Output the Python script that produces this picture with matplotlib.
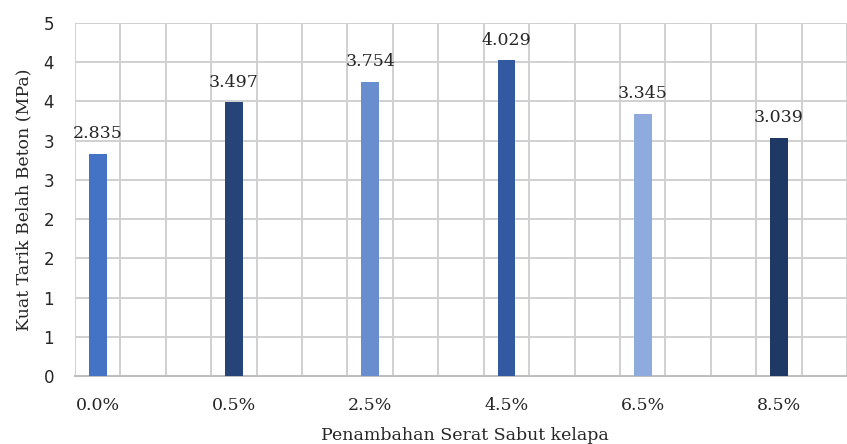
import numpy as np
import matplotlib
matplotlib.use('Agg')
import matplotlib.pyplot as plt

# data
categories = ['0.0%', '0.5%', '2.5%', '4.5%', '6.5%', '8.5%']
values = [2.835, 3.497, 3.754, 4.029, 3.345, 3.039]
colors = ['#4472C4', '#264478', '#698ED0', '#335AA1', '#8FAADC', '#203864']
y_ticks = [0, 0.5, 1.0, 1.5, 2.0, 2.5, 3.0, 3.5, 4.0, 4.5]
y_tick_labels = ['0', '1', '1', '2', '2', '3', '3', '4', '4', '5']

fig = plt.figure(figsize=(8.47, 4.44), dpi=100)
ax = fig.add_axes([75 / 847, 68 / 444, 1 - 75 / 847, (376 - 23) / 444])

# each category takes 3 grid cells, bar sits in the first
x = np.arange(len(categories)) * 3
bars = ax.bar(x, values, width=0.39, color=colors, zorder=3)

for xi, v in zip(x, values):
    ax.annotate(f'{v:.3f}', (xi, v), xytext=(0, 8), textcoords='offset points',
                ha='center', va='bottom', fontsize=12.5, family='DejaVu Serif',
                color='#262626')

ax.set_xlim(-0.5, 16.27)
ax.set_ylim(0, 4.5)
ax.set_yticks(y_ticks)
ax.set_yticklabels(y_tick_labels, fontsize=12, color='#262626')
ax.set_xticks(x)
ax.set_xticklabels(categories, fontsize=12.5, family='DejaVu Serif', color='#262626')
ax.set_xticks(np.arange(-0.5, 17, 1), minor=True)
ax.tick_params(axis='both', which='both', length=0)
ax.tick_params(axis='y', pad=15)
ax.tick_params(axis='x', pad=15)

ax.grid(True, which='major', axis='y', color='#D0D0D0', lw=1.4, zorder=0)
ax.grid(True, which='minor', axis='x', color='#D0D0D0', lw=1.4, zorder=0)

for s in ['top', 'right', 'left']:
    ax.spines[s].set_visible(False)
ax.spines['bottom'].set_color('#BFBFBF')
ax.spines['bottom'].set_linewidth(1.5)

ax.set_ylabel('Kuat Tarik Belah Beton (MPa)', fontsize=12.5, family='DejaVu Serif',
              color='#262626')
ax.yaxis.set_label_coords(-0.055, 0.5)
ax.set_xlabel('Penambahan Serat Sabut kelapa', fontsize=12.5, family='DejaVu Serif',
              color='#262626')
ax.xaxis.set_label_coords(0.505, -0.145)

fig.savefig('out.png', dpi=100)
